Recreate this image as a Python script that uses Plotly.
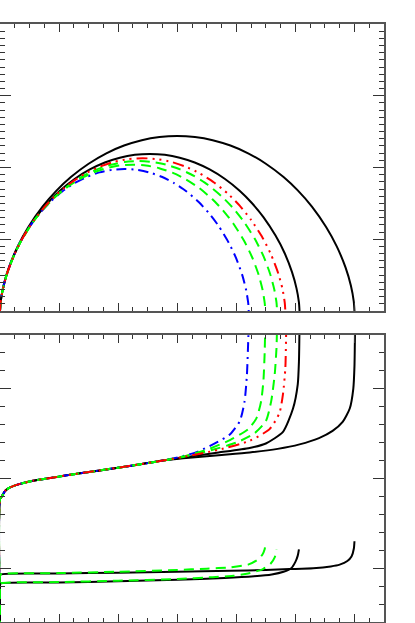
import plotly.graph_objects as go

# top panel: five arcs (x from 0 to the end point)
top_k1_x = [0, 0.012, 0.06, 0.15, 0.3, 0.48, 0.72, 0.96, 1.2, 1.5, 1.8, 2.1, 2.4, 2.7, 3.0, 3.3, 3.6, 3.9, 4.2, 4.5, 4.8, 5.04, 5.28, 5.52, 5.7, 5.85, 5.94, 5.988, 6.0]
top_k1_y = [0, 0.134, 0.352, 0.604, 0.901, 1.171, 1.455, 1.681, 1.867, 2.053, 2.198, 2.306, 2.381, 2.425, 2.44, 2.425, 2.381, 2.306, 2.198, 2.053, 1.867, 1.681, 1.455, 1.171, 0.901, 0.604, 0.352, 0.134, 0]

top_k2_x = [0, 0.010, 0.051, 0.127, 0.254, 0.406, 0.608, 0.811, 1.014, 1.268, 1.521, 1.775, 2.028, 2.282, 2.535, 2.789, 3.042, 3.296, 3.549, 3.803, 4.056, 4.259, 4.462, 4.664, 4.817, 4.943, 5.019, 5.06, 5.07]
top_k2_y = [0, 0.121, 0.316, 0.542, 0.809, 1.051, 1.306, 1.509, 1.676, 1.843, 1.973, 2.07, 2.137, 2.177, 2.19, 2.177, 2.137, 2.07, 1.973, 1.843, 1.676, 1.509, 1.306, 1.051, 0.809, 0.542, 0.316, 0.121, 0]

top_red_x = [0, 0.010, 0.048, 0.121, 0.242, 0.386, 0.58, 0.773, 0.966, 1.208, 1.449, 1.691, 1.932, 2.174, 2.415, 2.657, 2.898, 3.14, 3.381, 3.623, 3.864, 4.057, 4.25, 4.444, 4.589, 4.709, 4.782, 4.82, 4.83]
top_red_y = [0, 0.117, 0.307, 0.527, 0.786, 1.023, 1.27, 1.468, 1.63, 1.792, 1.919, 2.013, 2.079, 2.117, 2.13, 2.117, 2.079, 2.013, 1.919, 1.792, 1.63, 1.468, 1.27, 1.023, 0.786, 0.527, 0.307, 0.117, 0]

top_grA_x = [0, 0.009, 0.047, 0.117, 0.235, 0.375, 0.563, 0.75, 0.938, 1.173, 1.407, 1.642, 1.876, 2.111, 2.345, 2.58, 2.814, 3.049, 3.283, 3.518, 3.752, 3.94, 4.127, 4.315, 4.456, 4.573, 4.643, 4.681, 4.69]
top_grA_y = [0, 0.115, 0.301, 0.517, 0.772, 1.003, 1.246, 1.44, 1.599, 1.759, 1.883, 1.975, 2.039, 2.078, 2.09, 2.078, 2.039, 1.975, 1.883, 1.759, 1.599, 1.44, 1.246, 1.003, 0.772, 0.517, 0.301, 0.115, 0]

top_grB_x = [0, 0.009, 0.045, 0.112, 0.225, 0.359, 0.539, 0.718, 0.898, 1.123, 1.347, 1.572, 1.796, 2.021, 2.245, 2.47, 2.694, 2.919, 3.143, 3.368, 3.592, 3.772, 3.951, 4.131, 4.266, 4.378, 4.445, 4.481, 4.49]
top_grB_y = [0, 0.112, 0.294, 0.505, 0.753, 0.979, 1.217, 1.406, 1.561, 1.717, 1.837, 1.928, 1.991, 2.028, 2.04, 2.028, 1.991, 1.928, 1.837, 1.717, 1.561, 1.406, 1.217, 0.979, 0.753, 0.505, 0.294, 0.112, 0]

top_blue_x = [0, 0.008, 0.042, 0.105, 0.211, 0.337, 0.505, 0.674, 0.842, 1.053, 1.263, 1.474, 1.684, 1.895, 2.105, 2.316, 2.526, 2.737, 2.947, 3.158, 3.368, 3.536, 3.705, 3.873, 4.0, 4.105, 4.168, 4.202, 4.21]
top_blue_y = [0, 0.109, 0.285, 0.49, 0.731, 0.951, 1.181, 1.364, 1.515, 1.666, 1.783, 1.871, 1.932, 1.968, 1.98, 1.968, 1.932, 1.871, 1.783, 1.666, 1.515, 1.364, 1.181, 0.951, 0.731, 0.49, 0.285, 0.109, 0]

# bottom panel, upper family (shared start)
bot_common_x = [0, 0, 0.03, 0.085, 0.17, 0.34, 0.56, 0.85, 1.13, 1.69, 2.25, 2.76]
bot_common_y = [-0.7, 0.77, 0.8, 0.86, 0.9, 0.94, 0.975, 1.005, 1.035, 1.09, 1.145, 1.2]

bot_k1_x = bot_common_x + [3.1, 3.7, 4.225, 4.7, 5.07, 5.4, 5.63, 5.8, 5.92, 5.98, 6.0, 6.01]
bot_k1_y = bot_common_y + [1.225, 1.26, 1.29, 1.33, 1.38, 1.45, 1.53, 1.63, 1.78, 2.0, 2.25, 2.7]
bot_k2_x = bot_common_x + [3.1, 3.7, 4.225, 4.5, 4.79, 4.96, 5.04, 5.06, 5.07]
bot_k2_y = bot_common_y + [1.235, 1.29, 1.34, 1.39, 1.52, 1.78, 2.05, 2.3, 2.7]
bot_red_x = bot_common_x + [3.1, 3.7, 4.225, 4.563, 4.73, 4.79, 4.83, 4.845]
bot_red_y = bot_common_y + [1.24, 1.32, 1.42, 1.55, 1.73, 1.94, 2.23, 2.7]
bot_grA_x = bot_common_x + [3.1, 3.6, 4.0, 4.3, 4.5, 4.59, 4.65, 4.68, 4.69]
bot_grA_y = bot_common_y + [1.24, 1.32, 1.4, 1.5, 1.64, 1.86, 2.16, 2.45, 2.7]
bot_grB_x = bot_common_x + [3.1, 3.5, 3.9, 4.2, 4.34, 4.42, 4.46, 4.48, 4.49]
bot_grB_y = bot_common_y + [1.245, 1.32, 1.43, 1.55, 1.67, 1.86, 2.1, 2.4, 2.7]
bot_blue_x = bot_common_x + [3.1, 3.35, 3.66, 3.89, 4.06, 4.14, 4.18, 4.2, 4.21]
bot_blue_y = bot_common_y + [1.25, 1.3, 1.4, 1.49, 1.64, 1.86, 2.16, 2.5, 2.7]

# bottom panel, lower family
low_k1_x = [0, 0, 0.01, 1.0, 2.0, 3.0, 3.9, 4.5, 4.9, 5.3, 5.6, 5.75, 5.88, 5.95, 5.99, 6.0]
low_k1_y = [-0.7, -0.09, -0.07, -0.06, -0.05, -0.04, -0.03, -0.02, -0.01, 0.0, 0.02, 0.04, 0.08, 0.13, 0.22, 0.3]
low_k2_x = [0, 0, 0.01, 1, 2, 3, 3.8, 4.3, 4.6, 4.8, 4.93, 5.0, 5.04, 5.06]
low_k2_y = [-0.7, -0.19, -0.17, -0.16, -0.145, -0.13, -0.11, -0.09, -0.07, -0.04, 0.0, 0.07, 0.14, 0.21]
low_grB_x = [0, 0, 0.01, 1, 2, 3, 3.5, 3.9, 4.2, 4.35, 4.44, 4.48, 4.49]
low_grB_y = [-0.7, -0.09, -0.07, -0.055, -0.04, -0.02, -0.005, 0.01, 0.04, 0.09, 0.15, 0.21, 0.26]
low_grA_x = [0, 0, 0.01, 1, 2, 3, 3.6, 3.95, 4.2, 4.45, 4.58, 4.65, 4.68]
low_grA_y = [-0.7, -0.19, -0.17, -0.155, -0.14, -0.12, -0.1, -0.085, -0.06, -0.01, 0.05, 0.12, 0.21]

BLACK = dict(color="black", width=2)
RED = dict(color="#ff0000", width=2, dash="11px,5px,2px,5px,2px,5px,2px,5px")
GREEN = dict(color="#00ff00", width=2, dash="10px,6px")
BLUE = dict(color="#0000ff", width=2, dash="10px,5px,2px,5px")

fig = go.Figure()

def add(x, y, line, ax):
    fig.add_trace(go.Scatter(
        x=x, y=y, mode="lines", line=dict(shape="spline", smoothing=0.6, **line),
        xaxis="x" if ax == 1 else "x2", yaxis="y" if ax == 1 else "y2",
        hoverinfo="skip", showlegend=False
    ))

add(top_k1_x, top_k1_y, BLACK, 1)
add(top_k2_x, top_k2_y, BLACK, 1)
add(top_blue_x, top_blue_y, BLUE, 1)
add(top_grB_x, top_grB_y, GREEN, 1)
add(top_grA_x, top_grA_y, GREEN, 1)
add(top_red_x, top_red_y, RED, 1)

add(bot_k1_x, bot_k1_y, BLACK, 2)
add(bot_k2_x, bot_k2_y, BLACK, 2)
add(bot_blue_x, bot_blue_y, BLUE, 2)
add(bot_grB_x, bot_grB_y, GREEN, 2)
add(bot_grA_x, bot_grA_y, GREEN, 2)
add(bot_red_x, bot_red_y, RED, 2)
add(low_k1_x, low_k1_y, BLACK, 2)
add(low_k2_x, low_k2_y, BLACK, 2)
add(low_grB_x, low_grB_y, GREEN, 2)
add(low_grA_x, low_grA_y, GREEN, 2)

axis_common = dict(
    showline=True, linecolor="#555555", linewidth=1.5, mirror="allticks",
    ticks="inside", tickcolor="#333333", tickwidth=1,
    showticklabels=False, showgrid=False, zeroline=False,
)

fig.update_layout(
    width=415, height=623,
    margin=dict(l=0, r=31, t=24, b=1),
    paper_bgcolor="white", plot_bgcolor="white",
    xaxis=dict(domain=[0, 1], range=[0, 6.5], anchor="y", tick0=0, dtick=1, ticklen=8,
               minor=dict(dtick=0.25, ticks="inside", ticklen=4, tickcolor="#333333"), **axis_common),
    yaxis=dict(domain=[0.52, 1], range=[0, 4], anchor="x", tick0=0, dtick=1, ticklen=11,
               minor=dict(dtick=0.1, ticks="inside", ticklen=5, tickcolor="#333333"), **axis_common),
    xaxis2=dict(domain=[0, 1], range=[0, 6.5], anchor="y2", tick0=0, dtick=1, ticklen=8,
                minor=dict(dtick=0.25, ticks="inside", ticklen=4, tickcolor="#333333"), **axis_common),
    yaxis2=dict(domain=[0, 0.48], range=[-0.6, 2.6], anchor="x2", tick0=0, dtick=1, ticklen=11,
                minor=dict(dtick=0.2, ticks="inside", ticklen=5, tickcolor="#333333"), **axis_common),
)

# page has a default body margin; drop it so the figure sits at the window corner
fig.write_html("out.html", config={"displayModeBar": False},
               post_script="document.body.style.margin='0px';")
